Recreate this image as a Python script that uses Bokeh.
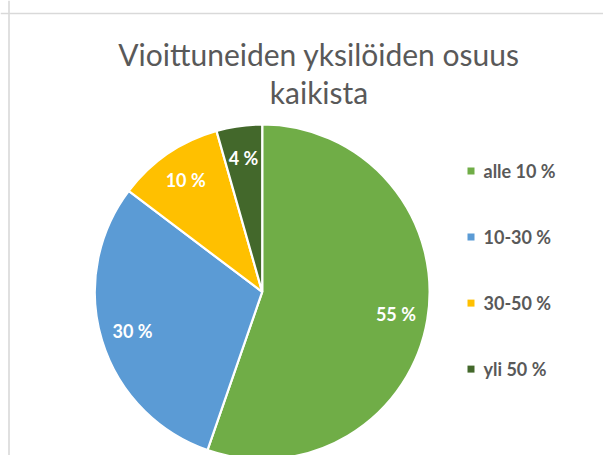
import numpy as np
from bokeh.plotting import figure
from bokeh.models import ColumnDataSource, Range1d, Span
from bokeh.core.properties import value
from bokeh.embed import file_html
from bokeh.resources import INLINE

# ---- data ----
categories = ["alle 10 %", "10-30 %", "30-50 %", "yli 50 %"]
shares = [55.3, 30.0, 10.3, 4.4]
colors = ["#70AD47", "#5B9BD5", "#FFC000", "#43682B"]
title_lines = ["Vioittuneiden yksilöiden osuus", "kaikista"]

W, H = 603, 455
FONT = "Lato"
GRAY = "#595959"

p = figure(width=W, height=H, output_backend="svg", toolbar_location=None,
           x_range=Range1d(0, W), y_range=Range1d(0, H),
           min_border=0, min_border_left=0, min_border_right=0,
           min_border_top=0, min_border_bottom=0)
p.axis.visible = False
p.grid.visible = False
p.outline_line_color = None
p.background_fill_color = "white"
p.border_fill_color = "white"

# chart-area border (left + top, the rest is cropped in the reference)
p.add_layout(Span(location=8.5, dimension="height", line_color="#D9D9D9", line_width=1.6))
p.add_layout(Span(location=442, dimension="width", line_color="#D9D9D9", line_width=1.6))

# ---- pie ----
cx, cy, R = 261.7, 163.6, 167.4
vals = np.array(shares, dtype=float)
frac = vals / vals.sum()
cum = np.concatenate([[0.0], np.cumsum(frac)])
start = np.pi / 2 - 2 * np.pi * cum[:-1]
end = np.pi / 2 - 2 * np.pi * cum[1:]
mid = (start + end) / 2
lr = 0.81 * R
src = ColumnDataSource(dict(
    cat=categories, val=vals, color=colors,
    start=start, end=end,
    lx=cx + lr * np.cos(mid), ly=cy + lr * np.sin(mid),
    label=[f"{int(round(v))} %" for v in vals],
))
p.wedge(x=cx, y=cy, radius=R, start_angle="start", end_angle="end",
        direction="clock", fill_color="color", line_color="white",
        line_width=2.2, source=src)
p.text(x="lx", y="ly", text="label", source=src, text_color="white",
       text_font=value(FONT), text_font_style="bold", text_font_size="18px",
       text_align="center", text_baseline="middle")

# ---- title ----
p.text(x=[318.5, 318.5], y=[402, 364], text=title_lines, text_color=GRAY,
       text_font=value(FONT), text_font_size="30px",
       text_align="center", text_baseline="alphabetic")

# ---- legend ----
n = len(categories)
leg_top, leg_step = 284.4, 66.0
leg_y = leg_top - np.arange(n) * leg_step
leg = ColumnDataSource(dict(x=[470.5] * n, tx=[483.0] * n, y=leg_y,
                            color=colors, cat=categories))
p.scatter(x="x", y="y", marker="square", size=7, fill_color="color",
          line_color=None, source=leg)
p.text(x="tx", y="y", text="cat", source=leg, text_color=GRAY,
       text_font=value(FONT), text_font_style="bold", text_font_size="18px",
       text_align="left", text_baseline="middle")

open("out.html", "w").write(file_html(p, INLINE))
